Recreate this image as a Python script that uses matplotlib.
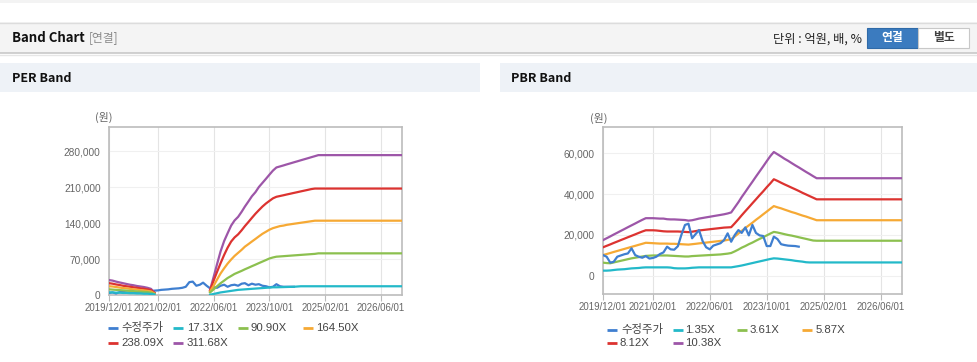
import matplotlib
matplotlib.use("Agg")
import matplotlib.pyplot as plt
import matplotlib.dates as mdates
from matplotlib.patches import Rectangle
from matplotlib.lines import Line2D
import pandas as pd

plt.rcParams['font.family'] = ['Liberation Sans', 'Noto Sans CJK KR', 'DejaVu Sans']

W, H = 978, 362

# ---------------- data ----------------
tick_dates = ['2019-12-01', '2021-02-01', '2022-06-01', '2023-10-01', '2025-02-01', '2026-06-01']
x_start, x_end = '2019-12-01', '2026-12-01'

# PER band: early segment dates (monthly 2019-12..2021-01), late segment (monthly 2022-05..2024-12, then 2026-12)
per_dates_early = pd.date_range('2019-12-01', '2021-01-01', freq='MS')
per_dates_late = list(pd.date_range('2022-05-01', '2024-12-01', freq='MS')) + [pd.Timestamp('2026-12-01')]
per_price_dates = pd.date_range('2019-12-01', '2024-05-01', freq='MS')

per_labels = ['수정주가', '17.31X', '90.90X', '164.50X', '238.09X', '311.68X']

per_price = [4000, 5000, 3000, 5500, 6000, 5000, 4500, 5500, 5000, 6000, 5500, 6500, 7000, 8500,
             9000, 10000, 10500, 11000, 12000, 12500, 13000, 14000, 16000, 25000, 26000, 18000, 20000, 24000, 18000,
             13000, 15000, 14000, 18000, 20000, 16000, 19000, 20000, 18000, 22000, 23000, 19000, 22000, 20000,
             21000, 18000, 17000, 15000, 16000, 21000, 17000, 16000, 16000, 16000, 16000]

per_b1_early = [5000, 5000, 4500, 4500, 4000, 4000, 3500, 3500, 3000, 3000, 2500, 2500, 2000, 1000]
per_b2_early = [11000, 10500, 10000, 9500, 9000, 8500, 8000, 7500, 7000, 6500, 6000, 5500, 4500, 2000]
per_b3_early = [17000, 16500, 15500, 14500, 13500, 13000, 12000, 11000, 10500, 9500, 9000, 8000, 7000, 3000]
per_b4_early = [23000, 22000, 20500, 19500, 18000, 17000, 16000, 15000, 14000, 13000, 12000, 11000, 9500, 4000]
per_b5_early = [29000, 28000, 26000, 24500, 23000, 21500, 20000, 19000, 17500, 16500, 15500, 14000, 12000, 5000]

per_b1_late = [500, 2000, 3500, 5000, 6000, 7000, 8000, 9000, 10000, 10500, 11000, 11500, 12000, 12500,
               13000, 13500, 14000, 14500, 15000, 15000, 15200, 15400, 15600, 15800, 16000, 16500, 17000,
               17000, 17000, 17000, 17000, 17000, 17000]
per_b2_late = [5000, 11000, 17000, 23000, 28000, 33000, 37000, 41000, 44000, 47000, 50000, 53000, 56000, 59000,
               62000, 65000, 68000, 71000, 73000, 74500, 75000, 75500, 76000, 76500, 77000, 77500, 78000, 78500,
               79000, 79500, 80000, 81000, 81000]
per_b3_late = [7000, 18000, 30000, 42000, 52000, 61000, 69000, 76000, 82000, 88000, 94000, 99000, 104000, 109000,
               114000, 119000, 123000, 127000, 130000, 132000, 134000, 135000, 136500, 137500, 138500, 139500,
               140500, 141500, 142500, 143500, 144500, 144500, 144500]
per_b4_late = [9000, 28000, 45000, 62000, 78000, 92000, 104000, 112000, 118000, 126000, 134000, 142000, 150000,
               158000, 165000, 172000, 178000, 183000, 188000, 191000, 192500, 194000, 195500, 197000, 198500,
               200000, 201500, 203000, 204500, 206000, 207000, 207000, 207000]
per_b5_late = [10000, 35000, 60000, 85000, 105000, 120000, 135000, 145000, 152000, 162000, 172000, 182000, 192000,
               200000, 210000, 218000, 226000, 234000, 242000, 248000, 250000, 252000, 254000, 256000, 258000,
               260000, 262000, 264000, 266000, 268000, 270000, 272000, 272000]
per_yticks = [0, 70000, 140000, 210000, 280000]

# PBR band: monthly 2019-12..2024-12 then 2026-12
pbr_dates = list(pd.date_range('2019-12-01', '2024-12-01', freq='MS')) + [pd.Timestamp('2026-12-01')]
pbr_price_dates = pd.date_range('2019-12-01', '2024-07-01', freq='MS')
pbr_labels = ['수정주가', '1.35X', '3.61X', '5.87X', '8.12X', '10.38X']

pbr_price = [10200, 9400, 6500, 6900, 9400, 10000, 10600, 11000, 13500, 10200, 9400, 8900, 9700, 8500, 8800,
             9400, 10700, 11500, 14300, 13000, 12800, 14500, 20000, 24900, 25500, 18400, 20500, 22400, 17000,
             14000, 13000, 14800, 15400, 16000, 17500, 20800, 16700, 20000, 22400, 21000, 23700, 19800, 24900,
             21000, 19800, 19500, 14600, 14600, 19200, 18000, 15500, 15100, 14800, 14700, 14600, 14300]
pbr_b1 = [2600, 2600, 2700, 2900, 3100, 3200, 3300, 3500, 3700, 3800, 3900, 4100, 4200, 4200, 4200, 4200,
          4200, 4200, 4200, 4100, 3800, 3700, 3700, 3700, 3800, 4000, 4100, 4200, 4200, 4200, 4200, 4200,
          4200, 4200, 4200, 4200, 4200, 4500, 4800, 5100, 5500, 5900, 6300, 6700, 7100, 7500, 7900, 8300,
          8600, 8500, 8300, 8100, 7900, 7700, 7400, 7200, 7000, 6700, 6600, 6600, 6600, 6600]
pbr_b2 = [6500, 6300, 6200, 6600, 7000, 7400, 7800, 8200, 8600, 8900, 9200, 9500, 9800, 9900, 10000, 10000,
          10000, 10000, 10000, 9900, 9800, 9700, 9600, 9500, 9500, 9700, 9800, 9900, 10000, 10100, 10200,
          10300, 10400, 10500, 10700, 10900, 11200, 12000, 12900, 13800, 14600, 15500, 16300, 17200, 18100,
          18900, 19800, 20700, 21500, 21200, 20800, 20400, 20000, 19700, 19300, 18900, 18500, 18100, 17700,
          17300, 17200, 17200]
pbr_b3 = [10200, 10700, 11200, 11700, 12200, 12700, 13200, 13700, 14200, 14700, 15200, 15700, 16200, 16100,
          16000, 15900, 15800, 15800, 15800, 15700, 15700, 15600, 15500, 15400, 15300, 15500, 15700, 15900,
          16100, 16300, 16500, 16700, 16900, 17100, 17300, 17600, 18000, 19300, 20700, 22000, 23400, 24700,
          26000, 27400, 28700, 30100, 31400, 32800, 34100, 33500, 33000, 32400, 31800, 31200, 30700, 30100,
          29500, 29000, 28400, 27800, 27200, 27200]
pbr_b4 = [14000, 14700, 15400, 16100, 16800, 17500, 18200, 18900, 19600, 20300, 21000, 21700, 22300, 22300,
          22300, 22200, 22000, 21800, 21700, 21700, 21700, 21700, 21600, 21500, 21400, 21600, 21900, 22200,
          22400, 22600, 22800, 23000, 23200, 23400, 23600, 23700, 23800, 25700, 27700, 29600, 31600, 33500,
          35500, 37400, 39400, 41300, 43300, 45200, 47200, 46400, 45500, 44700, 43900, 43100, 42300, 41500,
          40600, 39800, 39000, 38200, 37400, 37400]
pbr_b5 = [17500, 18400, 19300, 20200, 21100, 22000, 22900, 23800, 24700, 25600, 26500, 27400, 28200, 28200,
          28200, 28100, 28000, 28000, 27700, 27600, 27600, 27500, 27400, 27300, 27000, 27200, 27600, 28000,
          28300, 28600, 28900, 29200, 29500, 29800, 30100, 30500, 31000, 33500, 36000, 38500, 41000, 43500,
          46000, 48500, 51000, 53500, 56000, 58500, 60500, 59400, 58300, 57200, 56200, 55100, 54000, 53000,
          51900, 50800, 49800, 48700, 47700, 47700]
pbr_yticks = [0, 20000, 40000, 60000]

colors = ['#3f7fd0', '#23b9c9', '#8cc04f', '#f6a934', '#dc3330', '#9d56a8']

# ---------------- figure ----------------
fig = plt.figure(figsize=(W / 100, H / 100), dpi=100)
fig.patch.set_facecolor('white')


def fx(x):
    return x / W


def fy(y):
    return 1 - y / H


def rect(x0, y0, x1, y1, fc, ec='none', lw=0, z=0):
    r = Rectangle((fx(x0), fy(y1)), fx(x1) - fx(x0), fy(y0) - fy(y1), transform=fig.transFigure,
                  facecolor=fc, edgecolor=ec, linewidth=lw, zorder=z)
    fig.add_artist(r)


def hline(x0, x1, y, c, lw=1):
    fig.add_artist(Line2D([fx(x0), fx(x1)], [fy(y), fy(y)], transform=fig.transFigure, color=c, lw=lw))


CJK = ['Noto Sans CJK KR', 'DejaVu Sans']

# top strip
rect(0, 0, W, 3, '#f3f3f3')
# header bar
rect(0, 22, W, 53, '#f4f4f4')
hline(0, W, 22.5, '#dcdcdc', 1)
hline(0, W, 53, '#c8c8c8', 1.2)
hline(0, W, 54.5, '#e6e6e6', 1)
fig.text(fx(12), fy(38), 'Band Chart', fontsize=9.5, fontweight='bold', color='#111111',
         family=CJK, va='center', ha='left')
fig.text(fx(89), fy(38), '[연결]', fontsize=8.5, color='#8a8a8a', family=CJK, va='center', ha='left')
fig.text(fx(862), fy(39), '단위 : 억원, 배, %', fontsize=8.8, color='#222222', family=CJK,
         va='center', ha='right')
rect(867.5, 28, 918, 47.5, '#3b7bbf', '#2f6aa8', 0.8, z=2)
rect(918, 28, 969, 47.5, '#ffffff', '#c8c8c8', 0.8, z=2)
fig.text(fx(892.7), fy(38), '연결', fontsize=8.5, color='white', fontweight='bold',
         family=CJK, va='center', ha='center', zorder=3)
fig.text(fx(943.5), fy(38), '별도', fontsize=8.5, color='#444444', fontweight='bold',
         family=CJK, va='center', ha='center', zorder=3)

# panel header bars
rect(0, 63, 480, 92, '#eef2f7')
rect(500, 63, W, 92, '#eef2f7')
fig.text(fx(12), fy(78), 'PER Band', fontsize=9, fontweight='bold', color='#111111',
         family=CJK, va='center', ha='left')
fig.text(fx(511), fy(78), 'PBR Band', fontsize=9, fontweight='bold', color='#111111',
         family=CJK, va='center', ha='left')

# (원) labels
fig.text(fx(104), fy(117), '(원)', fontsize=7.8, color='#666666', va='center', ha='center', family=CJK)
fig.text(fx(599), fy(118), '(원)', fontsize=7.8, color='#666666', va='center', ha='center', family=CJK)


def style_axes(ax, yticks, ylim):
    ax.set_xlim(pd.Timestamp(x_start), pd.Timestamp(x_end))
    ax.set_ylim(*ylim)
    ax.set_xticks([pd.Timestamp(d) for d in tick_dates])
    ax.xaxis.set_major_formatter(mdates.DateFormatter('%Y/%m/%d'))
    ax.set_yticks(yticks)
    ax.set_yticklabels([f'{v:,}' for v in yticks])
    ax.tick_params(axis='x', labelsize=6.9, colors='#666666', length=4, width=0.8, pad=2,
                   color='#bbbbbb')
    ax.tick_params(axis='y', labelsize=7.3, colors='#666666', length=0, pad=6)
    for s in ax.spines.values():
        s.set_color('#bcbcbc')
        s.set_linewidth(1.2)
    ax.grid(axis='x', color='#e4e4e4', lw=0.8)
    ax.grid(axis='y', color='#f0f0f0', lw=0.8)
    ax.set_axisbelow(True)
    ax.set_facecolor('white')


# PER axes
ax1 = fig.add_axes([fx(109), fy(295), fx(402) - fx(109), fy(127) - fy(295)])
style_axes(ax1, per_yticks, (0, 326700))
per_early = [per_b1_early, per_b2_early, per_b3_early, per_b4_early, per_b5_early]
per_late = [per_b1_late, per_b2_late, per_b3_late, per_b4_late, per_b5_late]
for i in range(4, -1, -1):
    ax1.plot(per_dates_early, per_early[i], color=colors[i + 1], lw=1.6, zorder=3)
    ax1.plot(per_dates_late, per_late[i], color=colors[i + 1], lw=1.6, zorder=3)
ax1.plot(per_price_dates, per_price, color=colors[0], lw=1.6, zorder=2.9)

# PBR axes
ax2 = fig.add_axes([fx(603), fy(294), fx(902) - fx(603), fy(127) - fy(294)])
style_axes(ax2, pbr_yticks, (-8800, 72700))
pbr_bands = [pbr_b1, pbr_b2, pbr_b3, pbr_b4, pbr_b5]
for i in range(4, -1, -1):
    ax2.plot(pbr_dates, pbr_bands[i], color=colors[i + 1], lw=1.6, zorder=3)
ax2.plot(pbr_price_dates, pbr_price, color=colors[0], lw=1.6, zorder=4)


# legends (manual)
def legend(entries, labels):
    for (lx, ly, tx), lab, c in zip(entries, labels, colors):
        fig.add_artist(Line2D([fx(lx), fx(lx + 10)], [fy(ly), fy(ly)], transform=fig.transFigure,
                              color=c, lw=2.0, solid_capstyle='butt'))
        fig.text(fx(tx), fy(ly), lab, fontsize=8.2, color='#444444', va='center', ha='left')


legend([(108, 328, 121), (173, 328, 187), (238, 328, 251), (303, 328, 316), (108, 343, 121), (173, 343, 187)],
       per_labels)
legend([(607, 330, 621), (673, 330, 685), (737, 330, 750), (802, 330, 816), (607, 343, 620), (673, 343, 685)],
       pbr_labels)

fig.savefig('out.png', dpi=100, facecolor='white')
